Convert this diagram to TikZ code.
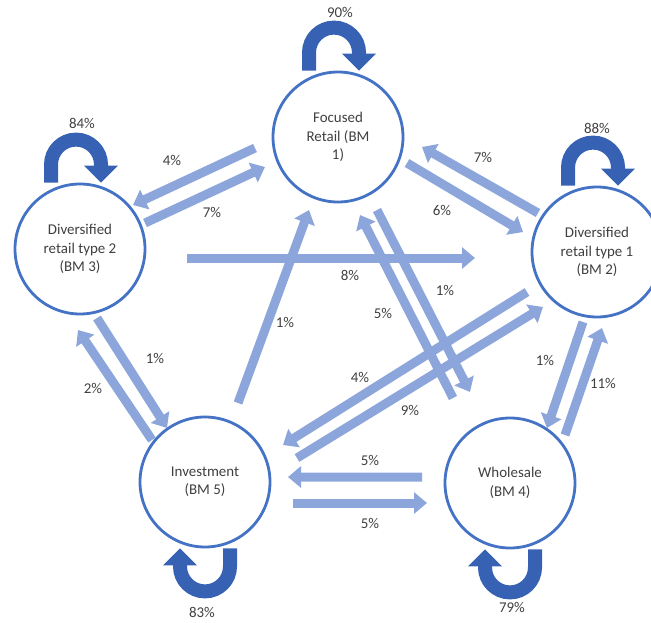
\documentclass[tikz,border=0pt]{standalone}
\usepackage{fontspec}
\setmainfont{Carlito}
\usetikzlibrary{arrows.meta}
\definecolor{circblue}{RGB}{68,114,196}
\definecolor{loopblue}{RGB}{55,98,180}
\definecolor{flowblue}{RGB}{140,166,220}
\definecolor{txtgray}{RGB}{64,64,64}

\begin{document}
\begin{tikzpicture}
    % Styles
    \tikzset{
        bmodel/.style={
            circle,
            draw=circblue,
            fill=white,
            line width=1.6pt,
            minimum size=2.6cm,
            align=center,
            text=txtgray,
            font=\fontsize{8.5}{10.5}\selectfont
        },
        flow/.style={-{Triangle[width=0.42cm, length=0.26cm]}, line width=0.18cm, draw=flowblue},
        selfloop/.style={-{Triangle[width=0.66cm, length=0.34cm]}, line width=0.28cm, draw=loopblue},
        pct/.style={text=txtgray, font=\fontsize{8.5}{10.5}\selectfont}
    }

    \useasboundingbox (0,0) rectangle (13.02,-12.44);

    % Business models
    \node[bmodel] at (6.76,-2.74) (bm1) {Focused\\Retail (BM\\1)};
    \node[bmodel] at (11.94,-5.04) (bm2) {Diversified\\retail type 1\\(BM 2)};
    \node[bmodel] at (1.60,-4.98) (bm3) {Diversified\\retail type 2\\(BM 3)};
    \node[bmodel] at (10.20,-9.66) (bm4) {Wholesale\\(BM 4)};
    \node[bmodel] at (4.10,-9.64) (bm5) {Investment\\(BM 5)};

    % Staying in the same model
    \draw[selfloop] ([xshift=-0.58cm]bm1.north) -- ++(0,0.36)
        arc[start angle=180, end angle=0, x radius=0.5, y radius=0.5] -- ++(0,-0.36);
    \draw[selfloop] ([xshift=-0.58cm]bm3.north) -- ++(0,0.36)
        arc[start angle=180, end angle=0, x radius=0.5, y radius=0.5] -- ++(0,-0.36);
    \draw[selfloop] ([xshift=-0.58cm]bm2.north) -- ++(0,0.36)
        arc[start angle=180, end angle=0, x radius=0.5, y radius=0.5] -- ++(0,-0.36);
    \draw[selfloop] ([xshift=0.5cm]bm5.south) -- ++(0,-0.36)
        arc[start angle=0, end angle=-180, x radius=0.5, y radius=0.5] -- ++(0,0.36);
    \draw[selfloop] ([xshift=0.5cm]bm4.south) -- ++(0,-0.36)
        arc[start angle=0, end angle=-180, x radius=0.5, y radius=0.5] -- ++(0,0.36);

    % Transitions between models
    \draw[flow] ([shift={(-1.66,-0.22)}]bm1.center) -- ([shift={(1.06,0.88)}]bm3.center);
    \draw[flow] ([shift={(1.30,0.52)}]bm3.center) -- ([shift={(-1.46,-0.60)}]bm1.center);
    \draw[flow] ([shift={(-1.18,0.78)}]bm2.center) -- ([shift={(1.68,-0.20)}]bm1.center);
    \draw[flow] ([shift={(1.38,-0.52)}]bm1.center) -- ([shift={(-1.48,0.40)}]bm2.center);
    \draw[flow] ([shift={(2.14,-0.18)}]bm3.center) -- ([shift={(-2.44,-0.12)}]bm2.center);
    \draw[flow] ([shift={(0.78,-1.46)}]bm1.center) -- ([shift={(-0.80,1.82)}]bm4.center);
    \draw[flow] ([shift={(-1.14,1.70)}]bm4.center) -- ([shift={(0.44,-1.56)}]bm1.center);
    \draw[flow] ([shift={(0.66,1.58)}]bm5.center) -- ([shift={(-0.58,-1.46)}]bm1.center);
    \draw[flow] ([shift={(-1.40,-0.80)}]bm2.center) -- ([shift={(1.56,0.74)}]bm5.center);
    \draw[flow] ([shift={(1.84,0.48)}]bm5.center) -- ([shift={(-1.08,-1.10)}]bm2.center);
    \draw[flow] ([shift={(-1.76,0.12)}]bm4.center) -- ([shift={(1.66,0.10)}]bm5.center);
    \draw[flow] ([shift={(1.76,-0.42)}]bm5.center) -- ([shift={(-1.66,-0.40)}]bm4.center);
    \draw[flow] ([shift={(-0.28,-1.40)}]bm2.center) -- ([shift={(0.74,1.10)}]bm4.center);
    \draw[flow] ([shift={(1.10,0.96)}]bm4.center) -- ([shift={(0.10,-1.52)}]bm2.center);
    \draw[flow] ([shift={(0.34,-1.38)}]bm3.center) -- ([shift={(-0.76,1.08)}]bm5.center);
    \draw[flow] ([shift={(-1.06,0.84)}]bm5.center) -- ([shift={(-0.04,-1.62)}]bm3.center);

    % Labels
    \node[pct] (p11) at (6.80,-0.24) {90\%};
    \node[pct] (p33) at (1.64,-2.46) {84\%};
    \node[pct] (p22) at (11.94,-2.56) {88\%};
    \node[pct] (p55) at (4.04,-12.24) {83\%};
    \node[pct] (p44) at (10.24,-12.14) {79\%};
    \node[pct] (p13) at (3.44,-3.20) {4\%};
    \node[pct] (p31) at (4.24,-4.24) {7\%};
    \node[pct] (p21) at (9.66,-3.14) {7\%};
    \node[pct] (p12) at (8.84,-4.20) {6\%};
    \node[pct] (p32) at (7.00,-5.50) {8\%};
    \node[pct] (p14) at (8.90,-5.80) {1\%};
    \node[pct] (p41) at (7.66,-6.26) {5\%};
    \node[pct] (p51) at (5.70,-6.44) {1\%};
    \node[pct] (p25) at (7.20,-7.54) {4\%};
    \node[pct] (p52) at (8.20,-8.20) {9\%};
    \node[pct] (p45) at (7.40,-9.20) {5\%};
    \node[pct] (p54) at (7.40,-10.46) {5\%};
    \node[pct] (p24) at (10.90,-7.20) {1\%};
    \node[pct] (p42) at (12.06,-7.66) {11\%};
    \node[pct] (p35) at (3.10,-7.16) {1\%};
    \node[pct] (p53) at (1.86,-7.76) {2\%};

\end{tikzpicture}
\end{document}
